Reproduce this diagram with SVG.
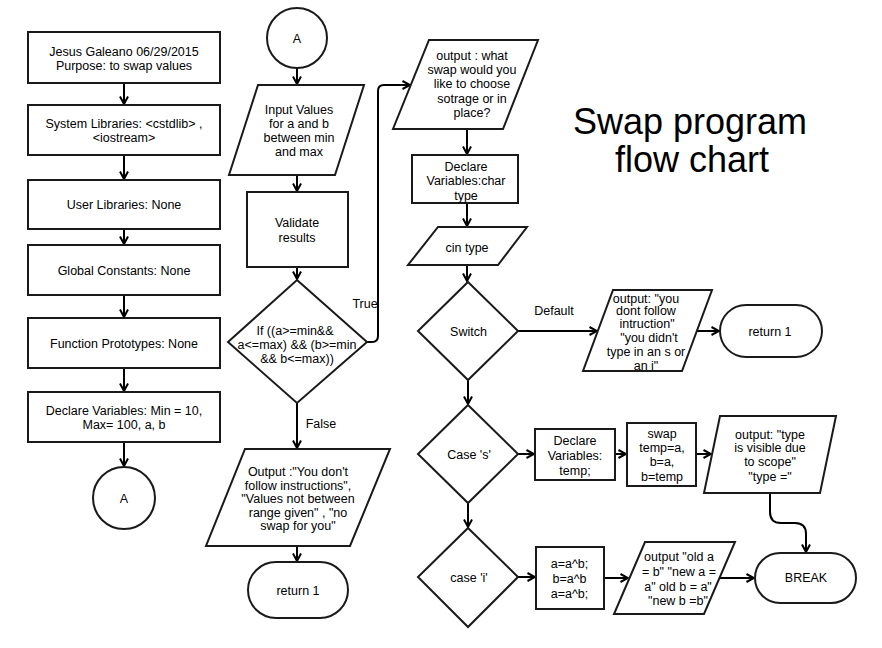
<svg xmlns="http://www.w3.org/2000/svg" width="882" height="648" viewBox="0 0 882 648">
<defs>
<marker id="arr" markerUnits="userSpaceOnUse" viewBox="0 0 10 10" markerWidth="10" markerHeight="10" refX="9" refY="5" orient="auto">
<path d="M1.5,1 L9,5 L1.5,9" fill="none" stroke="#000" stroke-width="2"/>
</marker>
</defs>
<style>
.s{fill:#fff;stroke:#1a1a1a;stroke-width:2}
.t{font-family:"Liberation Sans",Arial,sans-serif;font-size:12.5px;fill:#000;text-anchor:middle}
.c{fill:none;stroke:#000;stroke-width:2;marker-end:url(#arr)}
.title{font-family:"Liberation Sans",Arial,sans-serif;font-size:36px;fill:#000;text-anchor:middle}
</style>
<rect width="882" height="648" fill="#fff"/>

<g id="connectors">
<path class="c" d="M124,83 V104"/>
<path class="c" d="M124,155 V179"/>
<path class="c" d="M124,229 V244"/>
<path class="c" d="M124,295 V317"/>
<path class="c" d="M124,368 V391"/>
<path class="c" d="M124,442 V466"/>
<path class="c" d="M297,68 V84"/>
<path class="c" d="M297,175 V191"/>
<path class="c" d="M297,267 V279"/>
<path class="c" d="M297,403 V448"/>
<path class="c" d="M297,546 V561"/>
<path class="c" d="M367,342 H372 Q378,342 378,336 V91 Q378,85 384,85 H410"/>
<path class="c" d="M467,129 V154"/>
<path class="c" d="M467,203 V226"/>
<path class="c" d="M467,265 V281"/>
<path class="c" d="M468,380 V404"/>
<path class="c" d="M468,503 V527"/>
<path class="c" d="M518,331 H597"/>
<path class="c" d="M697,331 H719"/>
<path class="c" d="M518,454 H534"/>
<path class="c" d="M615,454 H626"/>
<path class="c" d="M696,454 H711"/>
<path class="c" d="M770,493 V512 Q770,523 781,523 H795 Q806,523 806,534 V552"/>
<path class="c" d="M518,577 H535"/>
<path class="c" d="M604,578 H628"/>
<path class="c" d="M720,578 H754"/>
<text class="t" x="365" y="307.5">True</text>
<text class="t" x="321" y="427.5">False</text>
<text class="t" x="554" y="314.5">Default</text>
</g>

<g id="header">
<rect class="s" x="28" y="32" width="192" height="51"/>
<text class="t" x="124" y="56">Jesus Galeano 06/29/2015</text>
<text class="t" x="124" y="69.5">Purpose: to swap values</text>
</g>
<g id="syslibs">
<rect class="s" x="28" y="105" width="192" height="50"/>
<text class="t" x="124" y="128">System Libraries: &lt;cstdlib&gt; ,</text>
<text class="t" x="124" y="142">&lt;iostream&gt;</text>
</g>
<g id="userlibs">
<rect class="s" x="28" y="180" width="192" height="49"/>
<text class="t" x="124" y="209">User Libraries: None</text>
</g>
<g id="globals">
<rect class="s" x="28" y="245" width="192" height="50"/>
<text class="t" x="124" y="274.5">Global Constants: None</text>
</g>
<g id="prototypes">
<rect class="s" x="28" y="318" width="192" height="50"/>
<text class="t" x="124" y="347.5">Function Prototypes: None</text>
</g>
<g id="declare1">
<rect class="s" x="28" y="392" width="192" height="50"/>
<text class="t" x="124" y="414.5">Declare Variables: Min = 10,</text>
<text class="t" x="124" y="428.5">Max= 100, a, b</text>
</g>
<g id="connA1">
<circle class="s" cx="124" cy="498" r="31"/>
<text class="t" x="124" y="502.5">A</text>
</g>

<g id="connA2">
<circle class="s" cx="297" cy="38" r="30"/>
<text class="t" x="297" y="42.5">A</text>
</g>
<g id="input">
<polygon class="s" points="258,85 364,85 335,175 229,175"/>
<text class="t" x="299" y="114">Input Values</text>
<text class="t" x="299" y="128">for a and b</text>
<text class="t" x="299" y="142">between min</text>
<text class="t" x="299" y="156">and max</text>
</g>
<g id="validate">
<rect class="s" x="247" y="192" width="101" height="75"/>
<text class="t" x="297" y="226.5">Validate</text>
<text class="t" x="297" y="241.5">results</text>
</g>
<g id="ifcheck">
<polygon class="s" points="297,280 367,342 297,403 228,342"/>
<text class="t" x="295" y="334.5">If ((a&gt;=min&amp;&amp;</text>
<text class="t" x="297" y="348.5">a&lt;=max) &amp;&amp; (b&gt;=min</text>
<text class="t" x="297" y="362.5">&amp;&amp; b&lt;=max))</text>
</g>
<g id="outfail">
<polygon class="s" points="245,449 390,449 350,546 206,546"/>
<text class="t" x="298" y="476">Output :"You don't</text>
<text class="t" x="298" y="489.5">follow instructions",</text>
<text class="t" x="298" y="503">"Values not between</text>
<text class="t" x="298" y="516.5">range given" , "no</text>
<text class="t" x="298" y="530">swap for you"</text>
</g>
<g id="return1a">
<rect class="s" x="248" y="562" width="100" height="56" rx="28"/>
<text class="t" x="298" y="594.5">return 1</text>
</g>

<g id="outchoose">
<polygon class="s" points="429,40 538,40 503,129 393,129"/>
<text class="t" x="472" y="59.5">output : what</text>
<text class="t" x="472" y="74">swap would you</text>
<text class="t" x="472" y="88">like to choose</text>
<text class="t" x="472" y="103">sotrage or in</text>
<text class="t" x="472" y="117">place?</text>
</g>
<g id="declare2">
<rect class="s" x="412" y="155" width="106" height="48"/>
<text class="t" x="466" y="171">Declare</text>
<text class="t" x="466" y="185">Variables:char</text>
<text class="t" x="466" y="199.5">type</text>
</g>
<g id="cintype">
<polygon class="s" points="438,227 527,227 498,265 408,265"/>
<text class="t" x="467" y="251.5">cin type</text>
</g>
<g id="switch">
<polygon class="s" points="468,282 518,331 468,380 418,331"/>
<text class="t" x="468.5" y="335.5">Switch</text>
</g>
<g id="outdefault">
<polygon class="s" points="613,290 712,290 682,371 583,371"/>
<text class="t" x="646" y="302.5">output: "you</text>
<text class="t" x="646" y="315">dont follow</text>
<text class="t" x="647" y="328">intruction"</text>
<text class="t" x="649" y="342">"you didn't</text>
<text class="t" x="646" y="356">type in an s or</text>
<text class="t" x="646" y="369.5">an i"</text>
</g>
<g id="return1b">
<rect class="s" x="720" y="305" width="102" height="52" rx="26"/>
<text class="t" x="770" y="335.5">return 1</text>
</g>
<g id="cases">
<polygon class="s" points="468,405 518,454 468,503 418,454"/>
<text class="t" x="469" y="459">Case 's'</text>
</g>
<g id="declaretemp">
<rect class="s" x="535" y="429" width="80" height="51"/>
<text class="t" x="575" y="444.5">Declare</text>
<text class="t" x="575" y="460">Variables:</text>
<text class="t" x="575" y="474.5">temp;</text>
</g>
<g id="swaptemp">
<rect class="s" x="627" y="423" width="69" height="63"/>
<text class="t" x="662" y="438">swap</text>
<text class="t" x="662" y="452">temp=a,</text>
<text class="t" x="662" y="466">b=a,</text>
<text class="t" x="662" y="480.5">b=temp</text>
</g>
<g id="outscope">
<polygon class="s" points="720,416 836,416 820,493 704,493"/>
<text class="t" x="770" y="438.5">output: "type</text>
<text class="t" x="770" y="452">is visible due</text>
<text class="t" x="770" y="466">to scope"</text>
<text class="t" x="770" y="480.5">"type ="</text>
</g>
<g id="casei">
<polygon class="s" points="468,528 518,577 468,627 418,577"/>
<text class="t" x="469" y="582">case 'i'</text>
</g>
<g id="xorswap">
<rect class="s" x="536" y="547" width="68" height="62"/>
<text class="t" x="569.5" y="568">a=a^b;</text>
<text class="t" x="569.5" y="583">b=a^b</text>
<text class="t" x="569.5" y="598">a=a^b;</text>
</g>
<g id="outold">
<polygon class="s" points="645,542 735,542 704,614 614,614"/>
<text class="t" x="679" y="561">output "old a</text>
<text class="t" x="679" y="576">= b" "new a =</text>
<text class="t" x="678" y="590.5">a" old b = a"</text>
<text class="t" x="678" y="604.5">"new b =b"</text>
</g>
<g id="break">
<rect class="s" x="755" y="553" width="101" height="50" rx="25"/>
<text class="t" x="806" y="582">BREAK</text>
</g>

<g id="title">
<text class="title" x="690" y="134">Swap program</text>
<text class="title" x="692" y="172">flow chart</text>
</g>
</svg>
